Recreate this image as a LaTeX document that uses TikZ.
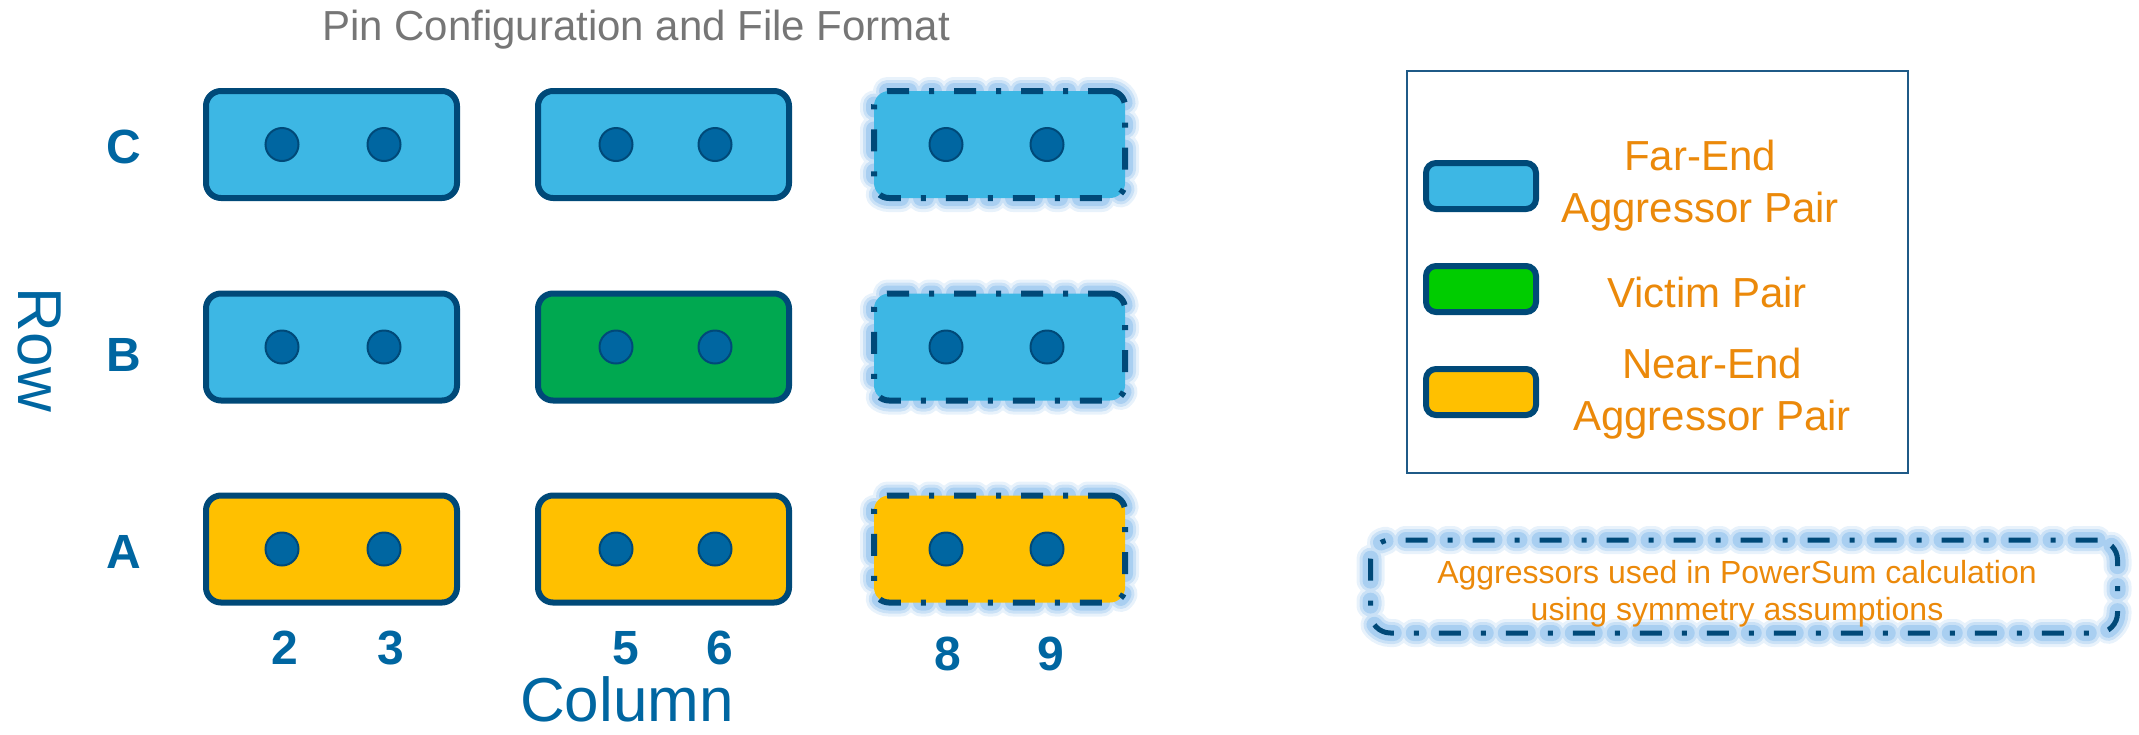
\documentclass[tikz,border=0pt]{standalone}
\usepackage{fontspec}
\setmainfont{Liberation Sans}
\definecolor{navy}{RGB}{0,73,120}
\definecolor{dotblue}{RGB}{0,102,161}
\definecolor{labelblue}{RGB}{0,102,161}
\definecolor{farblue}{RGB}{61,183,228}
\definecolor{victimgreen}{RGB}{0,168,80}
\definecolor{legendgreen}{RGB}{0,204,0}
\definecolor{nearyellow}{RGB}{255,192,0}
\definecolor{legendorange}{RGB}{235,137,10}
\definecolor{titlegray}{RGB}{118,118,118}
\definecolor{glowblue}{RGB}{130,185,235}
\definecolor{legendframe}{RGB}{31,90,135}
\begin{document}
\begin{tikzpicture}[x=0.5pt,y=-0.5pt,
  pairbox/.style={draw=navy, line width=3pt, rounded corners=7.5pt,
    minimum width=125.5pt, minimum height=53.5pt, inner sep=0pt, outer sep=0pt},
  farbox/.style={pairbox, fill=farblue},
  victimbox/.style={pairbox, fill=victimgreen},
  nearbox/.style={pairbox, fill=nearyellow},
  symdash/.style={dash pattern=on 11pt off 10pt on 2.5pt off 10pt},
  glowed/.style={
    preaction={draw=glowblue, draw opacity=0.18, line width=14pt, line cap=round, symdash},
    preaction={draw=glowblue, draw opacity=0.3, line width=11pt, line cap=round, symdash},
    preaction={draw=glowblue, draw opacity=0.45, line width=8pt, line cap=round, symdash}},
  symbox/.style={glowed, symdash},
  pin/.style={circle, fill=dotblue, draw=navy, line width=1pt, minimum size=16.5pt, inner sep=0pt},
  swatch/.style={draw=navy, line width=3pt, rounded corners=5pt,
    minimum width=55pt, minimum height=23pt, inner sep=0pt},
  axislabel/.style={text=labelblue, font=\bfseries\fontsize{24}{28}\selectfont, inner sep=0pt},
  axistitle/.style={text=labelblue, font=\fontsize{31}{36}\selectfont, inner sep=0pt},
  legendtext/.style={text=legendorange, font=\fontsize{21}{26}\selectfont, align=center, inner sep=0pt},
  notetext/.style={text=legendorange, font=\fontsize{16}{18.5}\selectfont, align=center, inner sep=0pt}
]
\useasboundingbox (0,0) rectangle (2139,734);

% title
\node[text=titlegray, font=\fontsize{21}{25}\selectfont, anchor=base, inner sep=0pt] (title) at (636,40) {Pin Configuration and File Format};

% grid boxes
\node[farbox]    (boxC1) at (331.5,144.5) {};
\node[farbox]    (boxC2) at (663.5,144.5) {};
\node[farbox, symbox] (boxC3) at (999.5,144.5) {};
\node[farbox]    (boxB1) at (331.5,347) {};
\node[victimbox] (boxB2) at (663.5,347) {};
\node[farbox, symbox] (boxB3) at (999.5,347) {};
\node[nearbox]   (boxA1) at (331.5,549) {};
\node[nearbox]   (boxA2) at (663.5,549) {};
\node[nearbox, symbox] (boxA3) at (999.5,549) {};

% pins
\foreach \r/\y in {C/144.5, B/347, A/549}{
  \node[pin] (pin\r1a) at (282,\y) {};
  \node[pin] (pin\r1b) at (384,\y) {};
  \node[pin] (pin\r2a) at (616,\y) {};
  \node[pin] (pin\r2b) at (715,\y) {};
  \node[pin] (pin\r3a) at (946,\y) {};
  \node[pin] (pin\r3b) at (1047,\y) {};
}

% row labels
\node[axislabel] (rowC) at (124,147) {C};
\node[axislabel] (rowB) at (124,355) {B};
\node[axislabel] (rowA) at (124,552) {A};
\node[axistitle, rotate=-90] (rowtitle) at (40,350) {Row};

% column labels
\node[axislabel] (col2) at (285,648) {2};
\node[axislabel] (col3) at (391,648) {3};
\node[axislabel] (col5) at (626,648) {5};
\node[axislabel] (col6) at (720,648) {6};
\node[axislabel] (col8) at (948,654) {8};
\node[axislabel] (col9) at (1051,654) {9};
\node[axistitle, anchor=base] (coltitle) at (627,721) {Column};

% legend
\node[draw=legendframe, line width=1.25pt, minimum width=250.5pt, minimum height=201pt, inner sep=0pt] (legend) at (1657.5,272) {};
\node[swatch, fill=farblue]     (swFar)    at (1481,186) {};
\node[swatch, fill=legendgreen] (swVictim) at (1481,289) {};
\node[swatch, fill=nearyellow]  (swNear)   at (1481,392) {};
\node[legendtext] (txFar)    at (1700,186) {Far-End\\Aggressor Pair};
\node[legendtext] (txVictim) at (1707,292) {Victim Pair};
\node[legendtext] (txNear)   at (1712,394) {Near-End\\Aggressor Pair};

% symmetry note
\node[symbox, draw=navy, line width=2.5pt, rounded corners=10pt, minimum width=373.5pt, minimum height=46.5pt, inner sep=0pt] (symnote) at (1744,586.5) {};
\node[notetext] (symtext) at (1737,594) {Aggressors used in PowerSum calculation\\using symmetry assumptions};
\end{tikzpicture}
\end{document}
